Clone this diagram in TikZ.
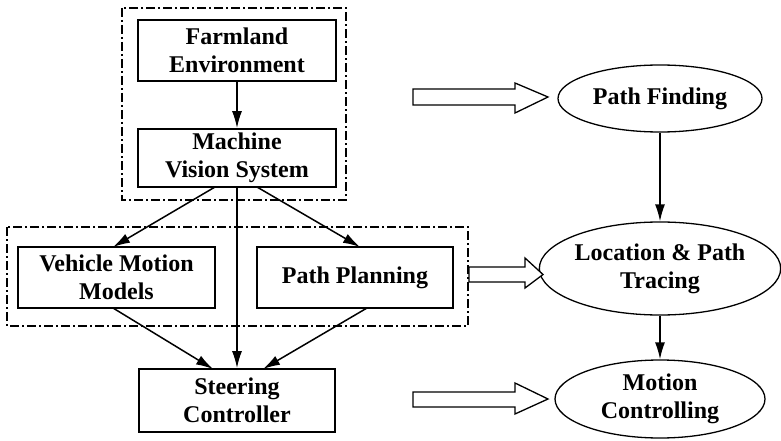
\documentclass[tikz,border=0pt]{standalone}
\usepackage{fontspec}
\setmainfont{Liberation Serif}
\usetikzlibrary{arrows.meta,shapes.geometric}
\tikzset{
  txt/.style={font=\fontsize{24}{28}\selectfont\bfseries, align=center},
  blk/.style={draw, line width=1.8pt, inner sep=0pt, txt},
  ell/.style={draw, ellipse, line width=1.3pt, inner sep=0pt, txt},
  grp/.style={draw, line width=1.3pt, dash pattern=on 9pt off 3pt on 2pt off 3pt},
  conn/.style={line width=1.5pt, -{Latex[length=17pt,width=10pt]}},
  hollow/.style={draw, line width=1.3pt, fill=white}
}
\begin{document}
\begin{tikzpicture}[x=1pt,y=-1pt]
\useasboundingbox (0,0) rectangle (781,441);
% groups
\draw[grp] (122,8) rectangle (346,200);
\draw[grp] (7,227) rectangle (468,326);
% boxes
\node[blk, minimum width=198pt, minimum height=61pt] (farm) at (237,50.5) {Farmland\\Environment};
\node[blk, minimum width=198pt, minimum height=58pt] (mvs) at (237,158) {Machine\\Vision System};
\node[blk, minimum width=197pt, minimum height=61pt] (veh) at (116.5,277.5) {Vehicle Motion\\Models};
\node[blk, minimum width=196pt, minimum height=61pt] (pp) at (355,277.5) {Path Planning};
\node[blk, minimum width=196pt, minimum height=63pt] (steer) at (237,400.5) {Steering\\Controller};
% ellipses
\node[ell, minimum width=204pt, minimum height=67pt] (pf) at (660,98.5) {Path Finding};
\node[ell, minimum width=230pt, minimum height=93pt] (loc) at (660,268.5) {Location \& Path\\Tracing};
\node[ell, minimum width=210pt, minimum height=78pt] (mc) at (660,399) {Motion\\Controlling};
% coordinates on box edges
\coordinate (mvsL) at (215,187);
\coordinate (mvsR) at (257,187);
\coordinate (vehT) at (113,247);
\coordinate (ppT) at (360,247);
\coordinate (vehB) at (113,308);
\coordinate (ppB) at (367,308);
\coordinate (stL) at (213,369);
\coordinate (stR) at (263,369);
% connectors
\draw[conn] (farm.south) -- (mvs.north);
\draw[conn] (mvsL) -- (vehT);
\draw[conn] (mvsR) -- (ppT);
\draw[conn] (mvs.south) -- (steer.north);
\draw[conn] (vehB) -- (stL);
\draw[conn] (ppB) -- (stR);
\draw[conn] (pf.south) -- (loc.north);
\draw[conn] (loc.south) -- (mc.north);
% hollow arrows
\draw[hollow] (413,89) -- (515,89) -- (515,83) -- (548,97) -- (515,113) -- (515,105) -- (413,105) -- cycle;
\draw[hollow] (469,267) -- (525,267) -- (525,258) -- (543,274.5) -- (525,288) -- (525,282) -- (469,282) -- cycle;
\draw[hollow] (413,392) -- (515,392) -- (515,383) -- (548,399) -- (515,414) -- (515,407) -- (413,407) -- cycle;
\end{tikzpicture}
\end{document}
